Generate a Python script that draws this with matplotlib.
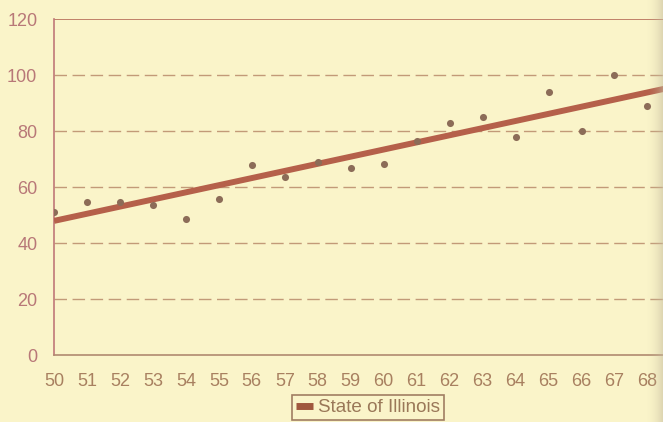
import matplotlib
matplotlib.use("Agg")
import matplotlib.pyplot as plt
import numpy as np
from matplotlib.lines import Line2D

plt.rcParams['font.family'] = ['Liberation Sans', 'DejaVu Sans']

# Annual values (1950-1968)
years = [50, 51, 52, 53, 54, 55, 56, 57, 58, 59, 60, 61, 62, 63, 64, 65, 66, 67, 68]
values = [51.0, 54.5, 54.5, 53.6, 48.6, 55.6, 67.9, 63.7, 68.8, 66.8, 68.1, 76.5,
          83.0, 85.1, 78.0, 93.8, 79.9, 99.9, 88.8]

# Trend line end points
trend_years = [50, 68.6]
trend_values = [47.9, 95.3]

x_ticks = list(range(50, 69))
y_ticks = [0, 20, 40, 60, 80, 100, 120]
legend_label = "State of Illinois"

bg = "#faf4c9"
fig = plt.figure(figsize=(6.63, 4.22), dpi=100, facecolor=bg)
W, H = 663, 422
left_px, top_px, bottom_px = 54, 19, 355
px_per_year = 32.97
right_px = left_px + px_per_year * 19.5
ax = fig.add_axes([left_px / W, (H - bottom_px) / H,
                   (right_px - left_px) / W, (bottom_px - top_px) / H])
ax.set_facecolor(bg)
ax.set_xlim(50, 69.5)
ax.set_ylim(0, 120)

# dashed grid lines
for yv in y_ticks[1:-1]:
    ax.axhline(yv, color="#c29a78", lw=1.0, dashes=(9, 4), zorder=1)
ax.axhline(120, color="#c08068", lw=1.4, zorder=1)

ax.plot(trend_years, trend_values, color="#b5604a", lw=4.3,
        solid_capstyle="butt", zorder=3)
ax.scatter(years, values, s=26, color="#8c6c58", zorder=4, linewidths=0)

for side in ("top", "right"):
    ax.spines[side].set_visible(False)
ax.spines["left"].set_color("#c07878")
ax.spines["left"].set_linewidth(1.2)
ax.spines["bottom"].set_color("#b08a70")
ax.spines["bottom"].set_linewidth(1.2)

ax.set_xticks(x_ticks)
ax.set_xticklabels([str(v) for v in x_ticks], color="#a88060", fontsize=13)
ax.set_yticks(y_ticks)
ax.set_yticklabels([str(v) for v in y_ticks], color="#b87878", fontsize=13)
ax.tick_params(axis="x", length=0, pad=13)
ax.tick_params(axis="y", length=0, pad=12)

handle = Line2D([0], [0], color="#a0583e", lw=5, solid_capstyle="butt")
leg = fig.legend([handle], [legend_label], loc="lower center",
                 bbox_to_anchor=(368 / W, -0.018), frameon=True, fontsize=13.6,
                 handlelength=0.9, handletextpad=0.3, borderpad=0.2,
                 fancybox=False)
leg.get_frame().set_edgecolor("#8a6048")
leg.get_frame().set_facecolor(bg)
leg.get_frame().set_linewidth(1.2)
for t in leg.get_texts():
    t.set_color("#9a7858")

# darkened right margin of the page
shade = np.linspace(0, 1, 64)[None, :] ** 2
sax = fig.add_axes([645 / W, 0, 18 / W, 1])
sax.imshow(np.dstack([np.full_like(shade, 0.78), np.full_like(shade, 0.74),
                      np.full_like(shade, 0.62), shade * 0.55]),
           aspect="auto", extent=[0, 1, 0, 1])
sax.axis("off")

fig.savefig("out.png", dpi=100, facecolor=bg)
